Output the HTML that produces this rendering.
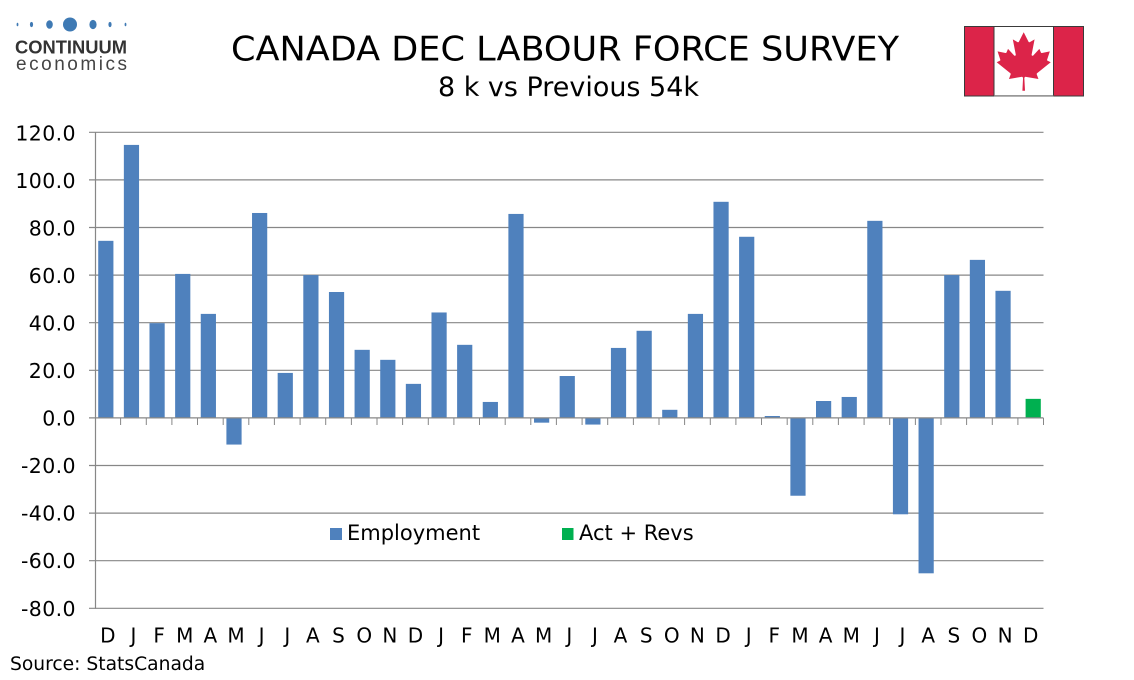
<!DOCTYPE html>
<html>
<head>
<meta charset="utf-8">
<style>
html,body{margin:0;padding:0;background:#fff;}
body{width:1134px;height:680px;overflow:hidden;}
svg{display:block;}
text{font-family:"DejaVu Sans","Liberation Sans",sans-serif;fill:#000;}
</style>
</head>
<body>
<svg width="1134" height="680" viewBox="0 0 1134 680" xmlns="http://www.w3.org/2000/svg">
<rect width="1134" height="680" fill="#fff"/>

<!-- Logo -->
<g fill="#3f7ab4">
  <ellipse cx="17.5" cy="24.5" rx="0.9" ry="1.8"/>
  <ellipse cx="31.5" cy="24.5" rx="1.6" ry="2.6"/>
  <ellipse cx="49.5" cy="24.5" rx="3.3" ry="4.3"/>
  <ellipse cx="70" cy="24.5" rx="7" ry="7"/>
  <ellipse cx="93" cy="24.5" rx="3.6" ry="4.6"/>
  <ellipse cx="110" cy="24.5" rx="1.6" ry="2.6"/>
  <ellipse cx="125.5" cy="24.5" rx="0.9" ry="1.8"/>
</g>
<text x="15" y="53.5" style="font-family:'Liberation Sans',sans-serif;font-weight:bold;font-size:18.6px;fill:#333;" textLength="112" lengthAdjust="spacingAndGlyphs">CONTINUUM</text>
<text x="16" y="70" style="font-family:'Liberation Sans',sans-serif;font-size:19px;fill:#444;" textLength="111" lengthAdjust="spacing">economics</text>

<!-- Title -->
<text x="231" y="60.5" style="font-size:33.5px;" textLength="668" lengthAdjust="spacingAndGlyphs">CANADA DEC LABOUR FORCE SURVEY</text>
<text x="438" y="96" style="font-size:26.5px;" textLength="261" lengthAdjust="spacingAndGlyphs">8 k vs Previous 54k</text>

<!-- Flag -->
<g>
  <rect x="964.5" y="26.5" width="119" height="69.5" fill="#fff" stroke="#3a3a3a" stroke-width="1"/>
  <rect x="965" y="27" width="29" height="68.5" fill="#dc2449"/>
  <rect x="1054" y="27" width="29" height="68.5" fill="#dc2449"/>
  <line x1="994" y1="27" x2="994" y2="96" stroke="#3a3a3a" stroke-width="1"/>
  <line x1="1053.5" y1="27" x2="1053.5" y2="96" stroke="#3a3a3a" stroke-width="1"/>
  <line x1="994" y1="95.8" x2="1053.5" y2="95.8" stroke="#777" stroke-width="1.2"/>
  <path transform="translate(1023.7,61.3) scale(0.01452)" fill="#dc2449" d="m-90 2030 45-863a95 95 0 0 0-111-98l-859 151 116-320a65 65 0 0 0-20-73l-941-762 212-99a65 65 0 0 0 34-79l-186-572 542 115a65 65 0 0 0 73-38l105-247 423 454a65 65 0 0 0 111-57l-204-1052 327 189a65 65 0 0 0 91-27l332-652 332 652a65 65 0 0 0 91 27l327-189-204 1052a65 65 0 0 0 111 57l423-454 105 247a65 65 0 0 0 73 38l542-115-186 572a65 65 0 0 0 34 79l212 99-941 762a65 65 0 0 0-20 73l116 320-859-151a95 95 0 0 0-111 98l45 863z"/>
</g>

<!-- Gridlines -->
<g stroke="#878787" stroke-width="1.2">
  <line x1="89" y1="132.3" x2="1043.5" y2="132.3"/>
  <line x1="89" y1="179.9" x2="1043.5" y2="179.9"/>
  <line x1="89" y1="227.5" x2="1043.5" y2="227.5"/>
  <line x1="89" y1="275.1" x2="1043.5" y2="275.1"/>
  <line x1="89" y1="322.7" x2="1043.5" y2="322.7"/>
  <line x1="89" y1="370.3" x2="1043.5" y2="370.3"/>
  <line x1="89" y1="465.5" x2="1043.5" y2="465.5"/>
  <line x1="89" y1="513.1" x2="1043.5" y2="513.1"/>
  <line x1="89" y1="560.7" x2="1043.5" y2="560.7"/>
  <line x1="89" y1="608.3" x2="1043.5" y2="608.3"/>
</g>

<!-- Bars -->
<g fill="#4f81bd">
  <rect x="98.22" y="240.83" width="15.2" height="177.07"/>
  <rect x="123.86" y="144.91" width="15.2" height="272.99"/>
  <rect x="149.49" y="323.18" width="15.2" height="94.72"/>
  <rect x="175.13" y="273.91" width="15.2" height="143.99"/>
  <rect x="200.76" y="313.89" width="15.2" height="104.01"/>
  <rect x="226.40" y="417.9" width="15.2" height="26.66"/>
  <rect x="252.03" y="212.98" width="15.2" height="204.92"/>
  <rect x="277.67" y="372.92" width="15.2" height="44.98"/>
  <rect x="303.30" y="275.1" width="15.2" height="142.8"/>
  <rect x="328.94" y="292.0" width="15.2" height="125.9"/>
  <rect x="354.57" y="349.83" width="15.2" height="68.07"/>
  <rect x="380.21" y="359.83" width="15.2" height="58.07"/>
  <rect x="405.84" y="383.87" width="15.2" height="34.03"/>
  <rect x="431.48" y="312.47" width="15.2" height="105.43"/>
  <rect x="457.11" y="344.83" width="15.2" height="73.07"/>
  <rect x="482.75" y="401.95" width="15.2" height="15.95"/>
  <rect x="508.38" y="213.93" width="15.2" height="203.97"/>
  <rect x="534.02" y="417.9" width="15.2" height="4.76"/>
  <rect x="559.65" y="376.01" width="15.2" height="41.89"/>
  <rect x="585.29" y="417.9" width="15.2" height="6.66"/>
  <rect x="610.92" y="347.93" width="15.2" height="69.97"/>
  <rect x="636.56" y="330.79" width="15.2" height="87.11"/>
  <rect x="662.19" y="409.81" width="15.2" height="8.09"/>
  <rect x="687.83" y="313.89" width="15.2" height="104.01"/>
  <rect x="713.46" y="201.8" width="15.2" height="216.1"/>
  <rect x="739.10" y="236.78" width="15.2" height="181.12"/>
  <rect x="764.73" y="416.0" width="15.2" height="1.9"/>
  <rect x="790.37" y="417.9" width="15.2" height="77.83"/>
  <rect x="816.00" y="401.0" width="15.2" height="16.9"/>
  <rect x="841.64" y="396.96" width="15.2" height="20.94"/>
  <rect x="867.27" y="220.84" width="15.2" height="197.06"/>
  <rect x="892.91" y="417.9" width="15.2" height="96.39"/>
  <rect x="918.54" y="417.9" width="15.2" height="155.41"/>
  <rect x="944.18" y="275.1" width="15.2" height="142.8"/>
  <rect x="969.81" y="259.87" width="15.2" height="158.03"/>
  <rect x="995.45" y="290.81" width="15.2" height="127.09"/>
</g>
<rect x="1025.6" y="398.86" width="15.2" height="19.04" fill="#00b050"/>

<!-- Axes -->
<g stroke="#878787" stroke-width="1.2">
  <line x1="95.5" y1="132" x2="95.5" y2="608.8"/>
  <line x1="89" y1="417.9" x2="1043.5" y2="417.9"/>
</g>
<g stroke="#878787" stroke-width="1">
  <path d="M120.6 418v7M146.3 418v7M171.9 418v7M197.5 418v7M223.2 418v7M248.8 418v7M274.4 418v7M300.1 418v7M325.7 418v7M351.4 418v7M377.0 418v7M402.6 418v7M428.3 418v7M453.9 418v7M479.5 418v7M505.2 418v7M530.8 418v7M556.4 418v7M582.1 418v7M607.7 418v7M633.4 418v7M659.0 418v7M684.6 418v7M710.3 418v7M735.9 418v7M761.5 418v7M787.2 418v7M812.8 418v7M838.4 418v7M864.1 418v7M889.7 418v7M915.4 418v7M941.0 418v7M966.6 418v7M992.3 418v7M1017.9 418v7M1043.5 418v7"/>
</g>

<!-- Y labels -->
<g style="font-size:20.5px;letter-spacing:0.4px;" text-anchor="end">
  <text x="76" y="140.5">120.0</text>
  <text x="76" y="188">100.0</text>
  <text x="76" y="235.5">80.0</text>
  <text x="76" y="283">60.0</text>
  <text x="76" y="330.5">40.0</text>
  <text x="76" y="378">20.0</text>
  <text x="76" y="425.5">0.0</text>
  <text x="76" y="473">-20.0</text>
  <text x="76" y="520.5">-40.0</text>
  <text x="76" y="568">-60.0</text>
  <text x="76" y="616">-80.0</text>
</g>

<!-- X labels -->
<g style="font-size:20px;" text-anchor="middle">
  <text x="107.8" y="642.5">D</text>
  <text x="133.5" y="642.5">J</text>
  <text x="159.1" y="642.5">F</text>
  <text x="184.7" y="642.5">M</text>
  <text x="210.4" y="642.5">A</text>
  <text x="236.0" y="642.5">M</text>
  <text x="261.6" y="642.5">J</text>
  <text x="287.3" y="642.5">J</text>
  <text x="312.9" y="642.5">A</text>
  <text x="338.5" y="642.5">S</text>
  <text x="364.2" y="642.5">O</text>
  <text x="389.8" y="642.5">N</text>
  <text x="415.4" y="642.5">D</text>
  <text x="441.1" y="642.5">J</text>
  <text x="466.7" y="642.5">F</text>
  <text x="492.3" y="642.5">M</text>
  <text x="518.0" y="642.5">A</text>
  <text x="543.6" y="642.5">M</text>
  <text x="569.3" y="642.5">J</text>
  <text x="594.9" y="642.5">J</text>
  <text x="620.5" y="642.5">A</text>
  <text x="646.2" y="642.5">S</text>
  <text x="671.8" y="642.5">O</text>
  <text x="697.4" y="642.5">N</text>
  <text x="723.1" y="642.5">D</text>
  <text x="748.7" y="642.5">J</text>
  <text x="774.3" y="642.5">F</text>
  <text x="800.0" y="642.5">M</text>
  <text x="825.6" y="642.5">A</text>
  <text x="851.2" y="642.5">M</text>
  <text x="876.9" y="642.5">J</text>
  <text x="902.5" y="642.5">J</text>
  <text x="928.2" y="642.5">A</text>
  <text x="953.8" y="642.5">S</text>
  <text x="979.4" y="642.5">O</text>
  <text x="1005.1" y="642.5">N</text>
  <text x="1030.7" y="642.5">D</text>
</g>

<!-- Legend -->
<rect x="330" y="528" width="12" height="12" fill="#4f81bd"/>
<text x="347" y="540" style="font-size:21px;">Employment</text>
<rect x="562" y="528" width="11.5" height="12" fill="#00b050"/>
<text x="579" y="540" style="font-size:21px;">Act + Revs</text>

<!-- Source -->
<text x="10" y="670" style="font-size:18.7px;">Source: StatsCanada</text>
</svg>
</body>
</html>
